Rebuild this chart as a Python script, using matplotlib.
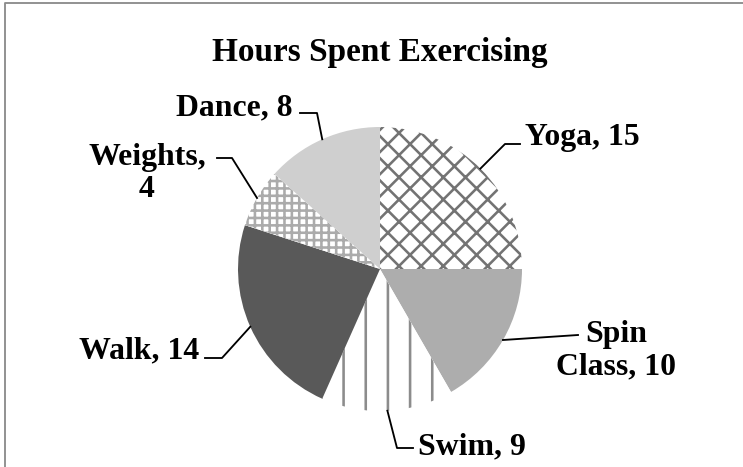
import numpy as np
import matplotlib.pyplot as plt
from matplotlib.lines import Line2D

# data
activities = ['Yoga', 'Spin Class', 'Swim', 'Walk', 'Weights', 'Dance']
hours = [15, 10, 9, 14, 4, 8]

# slice styles (face, hatch, hatch colour)
faces = ['white', '#adadad', 'white', '#595959', 'white', '#cfcfcf']
hatches = ['xx', None, '|', None, '+++', None]
hatch_cols = ['#737373', '#adadad', '#8c8c8c', '#595959', '#ababab', '#cfcfcf']

# label text and placement in pixels (x, baseline y, align) plus leader elbow/end
label_text = ['Yoga, 15', 'Spin\nClass, 10', 'Swim, 9', 'Walk, 14', 'Weights,\n4', 'Dance, 8']
label_pos = [(525, 145, 'left'), (616, 374, 'center'), (418, 454, 'left'),
             (199, 358, 'right'), (147, 197, 'center'), (293, 115, 'right')]
leaders = [[(505, 144), (520, 144)], [(578, 335)], [(397, 448), (413, 448)],
           [(222, 358), (205, 358)], [(232, 158), (217, 158)], [(317, 113), (300, 113)]]

DPI = 133
W, H = 743, 467
cx, cy, R = 380, 269, 142

plt.rcParams['font.family'] = ['Liberation Serif', 'DejaVu Serif']
plt.rcParams['hatch.linewidth'] = 1.4

fig = plt.figure(figsize=(W / DPI, H / DPI), dpi=DPI)
ax = fig.add_axes([(cx - R) / W, (H - cy - R) / H, 2 * R / W, 2 * R / H])

wedges, _ = ax.pie(hours, startangle=90, counterclock=False, radius=1,
                   colors=faces, wedgeprops=dict(linewidth=0))
for w, h, hc in zip(wedges, hatches, hatch_cols):
    w.set_edgecolor(hc)
    w.set_linewidth(0)
    if h:
        w.set_hatch(h)
ax.set_xlim(-1, 1)
ax.set_ylim(-1, 1)
ax.set_aspect('equal')
ax.axis('off')


def px(x, y):
    return (x - cx) / R, (cy - y) / R


for w, txt, (lx, ly, ha), pts in zip(wedges, label_text, label_pos, leaders):
    mid = np.deg2rad((w.theta1 + w.theta2) / 2)
    xs = [np.cos(mid)] + [px(*p)[0] for p in pts]
    ys = [np.sin(mid)] + [px(*p)[1] for p in pts]
    ax.add_line(Line2D(xs, ys, color='black', lw=1.0, clip_on=False))
    fig.text(lx / W, 1 - ly / H, txt, ha=ha, va='baseline', fontsize=17.2,
             fontweight='bold', linespacing=1.12, multialignment='center')

fig.text(cx / W, 1 - 61 / H, 'Hours Spent Exercising', ha='center', va='baseline',
         fontsize=18, fontweight='bold')

# chart area border (top and left visible)
fig.add_artist(Line2D([5 / W, 5 / W, 1], [0, 1 - 3 / H, 1 - 3 / H],
                      color='#8c8c8c', lw=1.0, transform=fig.transFigure))

fig.savefig('out.png', dpi=DPI, facecolor='white')
